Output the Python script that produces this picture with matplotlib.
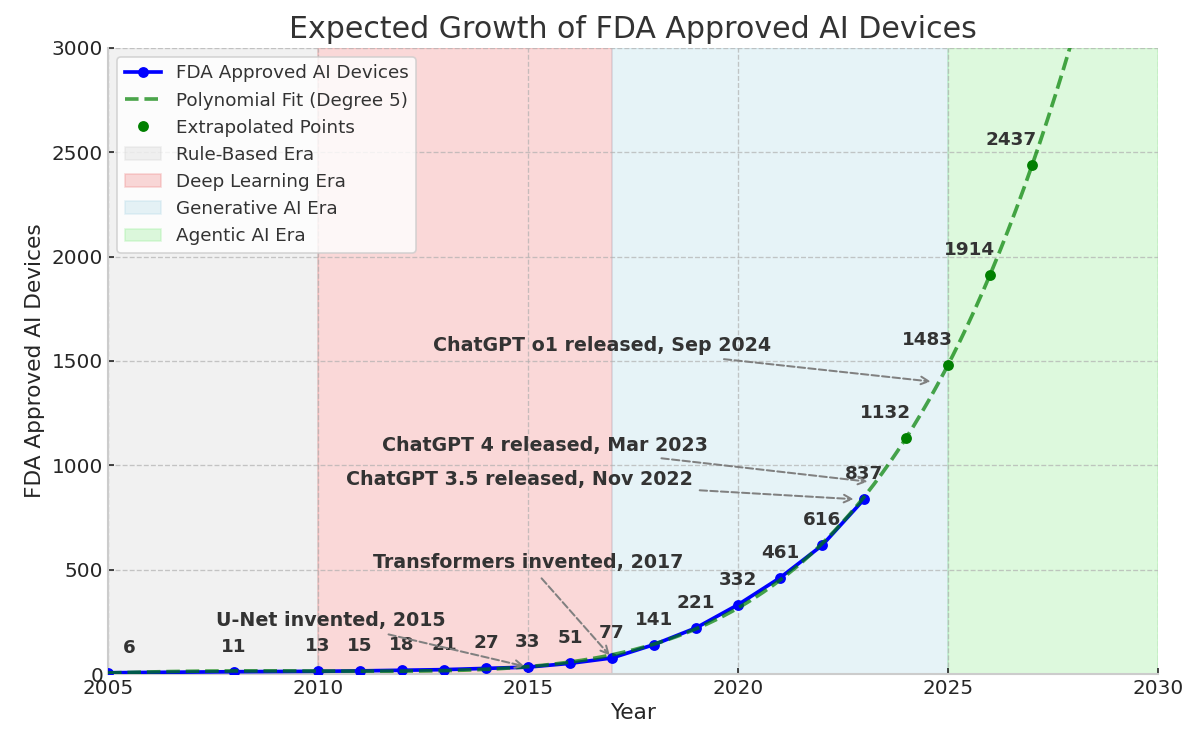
import matplotlib
matplotlib.use("Agg")
import matplotlib.pyplot as plt
from matplotlib.lines import Line2D
from matplotlib.patches import Patch
import numpy as np

# data
years = [2005, 2008, 2010, 2011, 2012, 2013, 2014, 2015, 2016, 2017,
         2018, 2019, 2020, 2021, 2022, 2023]
devices = [6, 11, 13, 15, 18, 21, 27, 33, 51, 77,
           141, 221, 332, 461, 616, 837]
future_years = [2024, 2025, 2026, 2027]
future_devices = [1132, 1483, 1914, 2437]

eras = ["Rule-Based Era", "Deep Learning Era", "Generative AI Era", "Agentic AI Era"]
era_bounds = [(2005, 2010), (2010, 2017), (2017, 2025), (2025, 2030)]
era_colors = ["lightgray", "lightcoral", "lightblue", "lightgreen"]

events = ["U-Net invented, 2015", "Transformers invented, 2017",
          "ChatGPT 3.5 released, Nov 2022", "ChatGPT 4 released, Mar 2023",
          "ChatGPT o1 released, Sep 2024"]
event_xy = [(2015, 33), (2017, 77), (2022 + 10 / 12, 837),
            (2023 + 2 / 12, 920), (2024 + 8 / 12, 1400)]
event_text_xy = [(2010.3, 255), (2015.0, 532), (2014.8, 930),
                 (2015.4, 1097), (2016.76, 1572)]

TXT = "#333333"

fig = plt.figure(figsize=(10, 746 / 120), dpi=120)
ax = fig.add_axes([0.09, 0.0965, 0.875, 0.8392])

for (a, b), c in zip(era_bounds, era_colors):
    ax.axvspan(a, b, color=c, alpha=0.3, zorder=0)

ax.plot(years, devices, color="blue", lw=2.2, marker="o", ms=5.5, zorder=3)

# degree 5 fit through all points (extrapolated ones lie on it)
all_x = np.array(years + future_years, dtype=float) - 2005
all_y = np.array(devices + future_devices, dtype=float)
coef = np.polyfit(all_x, all_y, 5)
xs = np.linspace(0, 25, 400)
ax.plot(xs + 2005, np.polyval(coef, xs), color="green", ls="--", lw=2.2,
        alpha=0.7, zorder=4)

ax.plot(future_years, future_devices, "o", color="green", ms=5.5, zorder=5)

# value labels
for i, (x, y) in enumerate(zip(years, devices)):
    dx = 12.5 if i == 0 else 0
    ax.annotate(str(y), (x, y), xytext=(dx, 15), textcoords="offset points",
                ha="center", va="center", fontsize=11, fontweight="bold",
                color=TXT, zorder=6)
for x, y in zip(future_years, future_devices):
    ax.annotate(str(y), (x, y), xytext=(-12.5, 15), textcoords="offset points",
                ha="center", va="center", fontsize=11, fontweight="bold",
                color=TXT, zorder=6)

for txt, xy, xyt in zip(events, event_xy, event_text_xy):
    ax.annotate(txt, xy=xy, xytext=xyt, ha="center", va="center",
                fontsize=11.4, fontweight="bold", color=TXT, zorder=7,
                arrowprops=dict(arrowstyle="->", color="gray", lw=1.2,
                                ls="--"))

ax.set_xlim(2005, 2030)
ax.set_ylim(0, 3000)
ax.set_xticks(range(2005, 2031, 5))
ax.set_yticks(range(0, 3001, 500))
ax.tick_params(direction="in", length=3.5, width=1, color="#262626",
               labelsize=12, labelcolor="#262626", pad=3)
ax.grid(True, color="#b0b0b0", ls="--", lw=0.8, alpha=0.7)
for s in ["top", "right"]:
    ax.spines[s].set_visible(False)
for s in ["left", "bottom"]:
    ax.spines[s].set_color("#cccccc")
    ax.spines[s].set_linewidth(1.25)

ax.set_title("Expected Growth of FDA Approved AI Devices", fontsize=18,
             color=TXT, pad=6)
ax.set_xlabel("Year", fontsize=13, color="#262626", labelpad=3)
ax.set_ylabel("FDA Approved AI Devices", fontsize=13, color="#262626",
              labelpad=4)

handles = [
    Line2D([], [], color="blue", lw=2.2, marker="o", ms=5.5),
    Line2D([], [], color="green", ls="--", lw=2.2, alpha=0.7),
    Line2D([], [], color="green", ls="none", marker="o", ms=5.5),
] + [Patch(facecolor=c, edgecolor=c, alpha=0.3) for c in era_colors]
labels = ["FDA Approved AI Devices", "Polynomial Fit (Degree 5)",
          "Extrapolated Points"] + eras
leg = ax.legend(handles, labels, loc="upper left", fontsize=11, framealpha=0.8,
                edgecolor="#cccccc", labelcolor=TXT)
leg.set_zorder(10)

fig.savefig("out.png", dpi=120)
